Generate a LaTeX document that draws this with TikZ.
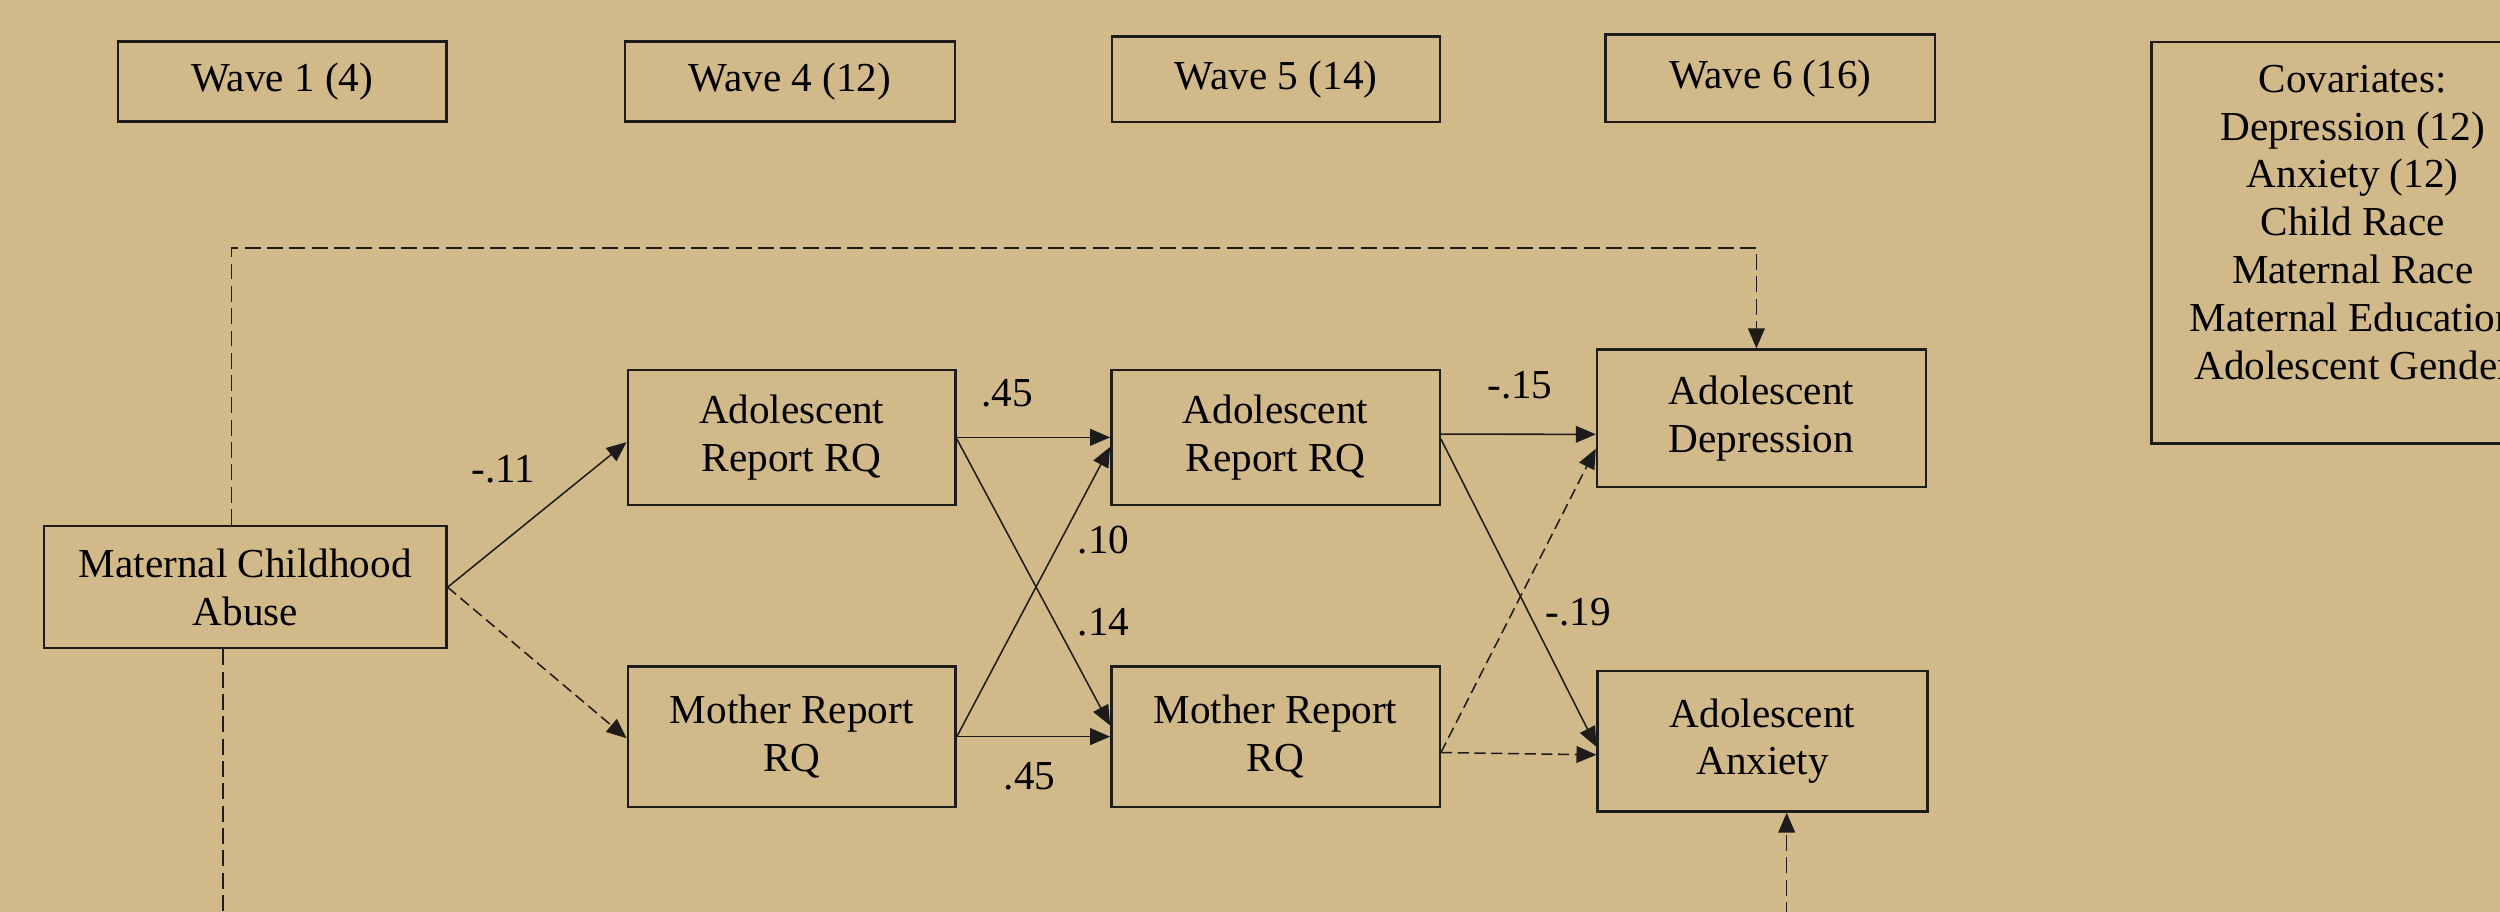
\documentclass[tikz,border=0pt]{standalone}
\usepackage{fontspec}
\setmainfont{Liberation Serif}
\usetikzlibrary{arrows.meta,calc}
\definecolor{bgtan}{RGB}{209,185,138}
\definecolor{inkline}{RGB}{30,28,26}
\begin{document}
\begin{tikzpicture}[x=0.02cm,y=-0.02cm,
  font=\fontsize{14.7pt}{17.07pt}\selectfont,
  box/.style={draw=inkline, line width=0.85pt, inner sep=0pt, align=center},
  lbl/.style={inner sep=0pt},
  link/.style={draw=inkline, line width=0.55pt, -{Triangle[length=0.25cm,width=0.21cm]}},
  dlink/.style={link, dash pattern=on 0.14cm off 0.07cm},
  dline/.style={draw=inkline, line width=0.55pt, dash pattern=on 0.2cm off 0.08cm}
]
% canvas
\fill[bgtan] (0,0) rectangle (1568,572);
\useasboundingbox (0,0) rectangle (1568,572);
\clip (0,0) rectangle (1568,572);

% wave headers
\node[box, minimum width=4.12cm,  minimum height=1.004cm] (w1) at (177,51.2)   {Wave 1 (4)};
\node[box, minimum width=4.136cm, minimum height=1.004cm] (w4) at (495.4,51.2) {Wave 4 (12)};
\node[box, minimum width=4.12cm,  minimum height=1.068cm] (w5) at (800.35,49.7) {Wave 5 (14)};
\node[box, minimum width=4.132cm, minimum height=1.098cm] (w6) at (1110.3,49)  {Wave 6 (16)};

% covariates
\node[box, minimum width=5.052cm, minimum height=5.04cm] (cov) at (1475.6,152.2) {};
\node[lbl, align=center] (covtext) at ($(cov.center)+(0,-12.8)$)
  {Covariates:\\Depression (12)\\Anxiety (12)\\Child Race\\Maternal Race\\Maternal Education\\Adolescent Gender};

% model variables
\node[box, minimum width=5.046cm, minimum height=1.532cm] (mca) at (153.85,368.3) {Maternal Childhood\\Abuse};
\node[box, minimum width=4.114cm, minimum height=1.692cm] (a4) at (496.55,274.3) {Adolescent\\Report RQ};
\node[box, minimum width=4.114cm, minimum height=1.76cm]  (m4) at (496.55,462)   {Mother Report\\RQ};
\node[box, minimum width=4.12cm,  minimum height=1.692cm] (a5) at (800,274.3)    {Adolescent\\Report RQ};
\node[box, minimum width=4.12cm,  minimum height=1.76cm]  (m5) at (800,462)      {Mother Report\\RQ};
\node[box, minimum width=4.128cm, minimum height=1.728cm] (dep) at (1104.8,262.4) {Adolescent\\Depression};
\node[box, minimum width=4.14cm,  minimum height=1.764cm] (anx) at (1105.5,464.9) {Adolescent\\Anxiety};

% paths from maternal childhood abuse
\draw[link]  (mca.east) -- ($(a4.west)+(0,3)$);
\draw[dlink] (mca.east) -- ($(m4.west)+(0,1)$);

% wave 4 to wave 5
\draw[link] (a4.east) -- (a5.west);
\draw[link] ($(a4.east)+(0,1)$) -- ($(m5.west)+(0,-7)$);
\draw[link] (m4.east) -- ($(a5.west)+(0,6)$);
\draw[link] (m4.east) -- (m5.west);

% wave 5 to wave 6
\draw[link]  ($(a5.east)+(0,-2)$) -- ($(dep.west)+(0,10)$);
\draw[link]  ($(a5.east)+(0,1)$) -- ($(anx.west)+(0,3.5)$);
\draw[dlink] ($(m5.east)+(0,10)$) -- ($(dep.west)+(0,19)$);
\draw[dlink] ($(m5.east)+(0,10)$) -- ($(anx.west)+(0,8.5)$);

% direct paths to the outcomes
\draw[dline, -{Triangle[length=0.25cm,width=0.21cm]}]
  ($(mca.north)+(-8.7,0)$) -- ++(0,-173.6) -| ($(dep.north)+(-3.2,0)$);
\coordinate (mcadown) at ($(mca.south)+(-14,210)$);
\draw[dline] ($(mca.south)+(-14,0)$) -- (mcadown);
\coordinate (anxup) at ($(anx.south)+(15.1,80)$);
\draw[dline, -{Triangle[length=0.25cm,width=0.21cm]}] (anxup) -- ($(anx.south)+(15.1,0)$);

% coefficients
\node[lbl] (c1) at (315.7,294)   {-.11};
\node[lbl] (c2) at (631.7,246.7) {.45};
\node[lbl] (c3) at (692.2,338.7) {.10};
\node[lbl] (c4) at (692.2,390.2) {.14};
\node[lbl] (c5) at (645.7,487)   {.45};
\node[lbl] (c6) at (953.3,241.8) {-.15};
\node[lbl] (c7) at (990,384)     {-.19};
\end{tikzpicture}
\end{document}
